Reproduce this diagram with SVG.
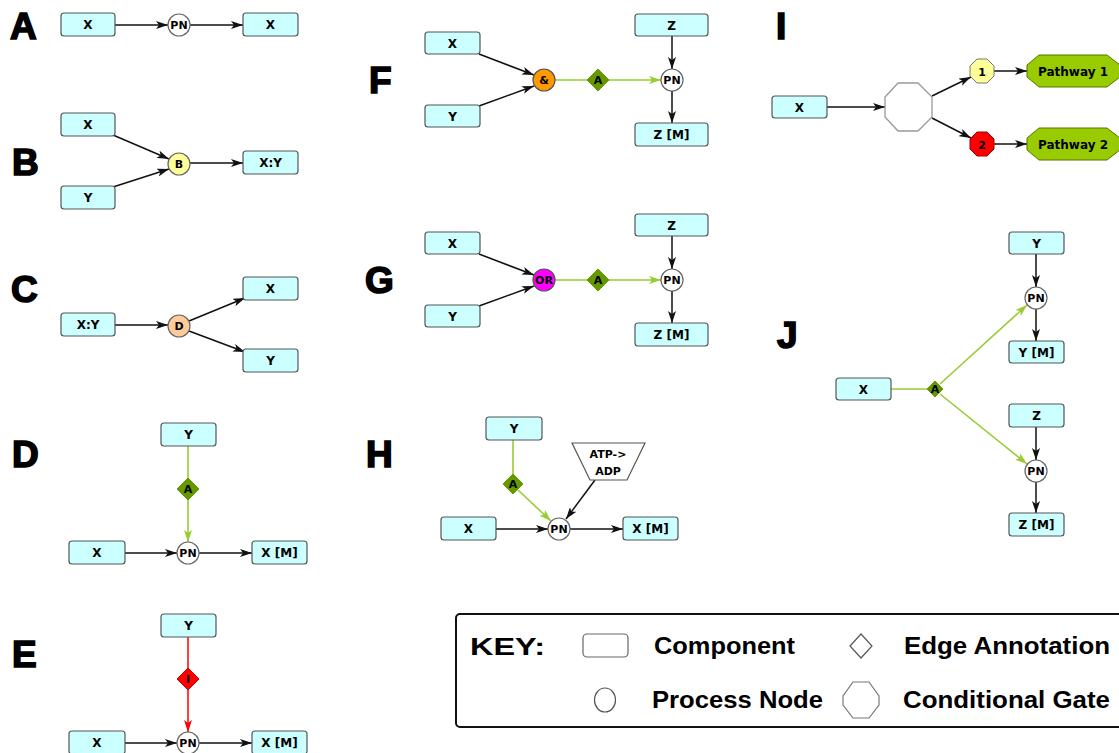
<svg xmlns="http://www.w3.org/2000/svg" width="1119" height="753" viewBox="0 0 1119 753">
<style>
.bg{fill:#ffffff}
.box{fill:#ccffff;stroke:#555;stroke-width:1.2}
.pn{fill:#fff;stroke:#666;stroke-width:1.2}
.t{font-family:"DejaVu Sans",Verdana,sans-serif;font-weight:bold;font-size:12px;fill:#000;text-anchor:middle}
.ts{font-family:"DejaVu Sans",Verdana,sans-serif;font-weight:bold;font-size:11px;fill:#000;text-anchor:middle}
.big{font-family:"Liberation Sans",Arial,sans-serif;font-weight:bold;font-size:37px;fill:#000;stroke:#000;stroke-width:1.6}
.key{font-family:"Liberation Sans",Arial,sans-serif;font-weight:bold;font-size:23px;fill:#000}
.k{stroke:#111;stroke-width:1.5;fill:none}
.g{stroke:#99cc33;stroke-width:1.6;fill:none}
.r{stroke:#ff0000;stroke-width:1.5;fill:none}
.ka{marker-end:url(#ak)}
.ga{marker-end:url(#ag)}
.ra{marker-end:url(#ar)}
.dg{fill:#669900;stroke:#669900;stroke-width:1}
.dr{fill:#ff0000;stroke:#cc0000;stroke-width:1}
</style>
<defs>
<marker id="ak" viewBox="0 0 12 8" refX="12" refY="4" markerWidth="12" markerHeight="8" markerUnits="userSpaceOnUse" orient="auto"><path d="M0,0 L12,4 L0,8 L3,4 z" fill="#111"/></marker>
<marker id="ag" viewBox="0 0 12 8" refX="12" refY="4" markerWidth="12" markerHeight="8" markerUnits="userSpaceOnUse" orient="auto"><path d="M0,0 L12,4 L0,8 L3,4 z" fill="#99cc33"/></marker>
<marker id="ar" viewBox="0 0 12 8" refX="12" refY="4" markerWidth="12" markerHeight="8" markerUnits="userSpaceOnUse" orient="auto"><path d="M0,0 L12,4 L0,8 L3,4 z" fill="#ff0000"/></marker>
</defs>
<rect class="bg" x="0" y="0" width="1119" height="753"/>

<g id="panel-letters">
<text class="big" x="10" y="39">A</text>
<text class="big" x="12" y="175">B</text>
<text class="big" x="11" y="302">C</text>
<text class="big" x="12" y="467">D</text>
<text class="big" x="12" y="667">E</text>
<text class="big" x="369" y="93">F</text>
<text class="big" x="365" y="293">G</text>
<text class="big" x="366" y="467">H</text>
<text class="big" x="776" y="39">I</text>
<text class="big" x="777" y="348">J</text>
</g>

<g id="connectors">
<!-- A -->
<line class="k ka" x1="115" y1="25" x2="168" y2="25"/>
<line class="k ka" x1="190" y1="25" x2="243" y2="25"/>
<!-- B -->
<line class="k ka" x1="113" y1="135" x2="169" y2="159"/>
<line class="k ka" x1="113" y1="187" x2="169" y2="169"/>
<line class="k ka" x1="190" y1="163" x2="243" y2="163"/>
<!-- C -->
<line class="k ka" x1="115" y1="325" x2="168" y2="325"/>
<line class="k ka" x1="189" y1="321" x2="245" y2="298"/>
<line class="k ka" x1="189" y1="331" x2="245" y2="352"/>
<!-- D -->
<line class="g" x1="188" y1="446" x2="188" y2="478"/>
<line class="g ga" x1="188" y1="500" x2="188" y2="542"/>
<line class="k ka" x1="125" y1="553" x2="177" y2="553"/>
<line class="k ka" x1="199" y1="553" x2="252" y2="553"/>
<!-- E -->
<line class="r" x1="188" y1="637" x2="188" y2="668"/>
<line class="r ra" x1="188" y1="690" x2="188" y2="732"/>
<line class="k ka" x1="125" y1="743" x2="177" y2="743"/>
<line class="k ka" x1="199" y1="743" x2="252" y2="743"/>
<!-- F -->
<line class="k ka" x1="479" y1="54" x2="534" y2="75"/>
<line class="k ka" x1="479" y1="106" x2="534" y2="86"/>
<line class="g" x1="555" y1="80" x2="588" y2="80"/>
<line class="g ga" x1="608" y1="80" x2="661" y2="80"/>
<line class="k ka" x1="672" y1="36" x2="672" y2="69"/>
<line class="k ka" x1="672" y1="91" x2="672" y2="123"/>
<!-- G -->
<line class="k ka" x1="479" y1="254" x2="534" y2="275"/>
<line class="k ka" x1="479" y1="306" x2="534" y2="286"/>
<line class="g" x1="555" y1="280" x2="588" y2="280"/>
<line class="g ga" x1="608" y1="280" x2="661" y2="280"/>
<line class="k ka" x1="672" y1="236" x2="672" y2="269"/>
<line class="k ka" x1="672" y1="291" x2="672" y2="323"/>
<!-- H -->
<line class="g" x1="513" y1="440" x2="513" y2="474"/>
<line class="g ga" x1="518" y1="490" x2="551" y2="521"/>
<line class="k ka" x1="595" y1="480" x2="566" y2="519"/>
<line class="k ka" x1="496" y1="529" x2="548" y2="529"/>
<line class="k ka" x1="570" y1="529" x2="623" y2="529"/>
<!-- I -->
<line class="k ka" x1="827" y1="107" x2="885" y2="107"/>
<line class="k ka" x1="932" y1="96" x2="971" y2="77"/>
<line class="k ka" x1="932" y1="118" x2="971" y2="138"/>
<line class="k ka" x1="994" y1="71" x2="1027" y2="71"/>
<line class="k ka" x1="994" y1="144" x2="1027" y2="144"/>
<!-- J -->
<line class="k ka" x1="1036" y1="254" x2="1036" y2="287"/>
<line class="k ka" x1="1036" y1="309" x2="1036" y2="341"/>
<line class="k ka" x1="1036" y1="427" x2="1036" y2="460"/>
<line class="k ka" x1="1036" y1="482" x2="1036" y2="513"/>
<line class="g" x1="891" y1="389" x2="928" y2="389"/>
<line class="g ga" x1="940" y1="384" x2="1027" y2="305"/>
<line class="g ga" x1="940" y1="394" x2="1027" y2="464"/>
</g>

<g id="A-nodes">
<g id="A-x"><rect class="box" x="61" y="13" width="54" height="23" rx="3"/><text class="t" x="88" y="29">X</text></g>
<g id="A-pn"><circle class="pn" cx="179" cy="25" r="11"/><text class="ts" x="179" y="29">PN</text></g>
<g id="A-x2"><rect class="box" x="243" y="13" width="55" height="23" rx="3"/><text class="t" x="270.5" y="29">X</text></g>
</g>

<g id="B-nodes">
<g id="B-x"><rect class="box" x="61" y="113" width="54" height="23" rx="3"/><text class="t" x="88" y="129">X</text></g>
<g id="B-y"><rect class="box" x="61" y="186" width="54" height="23" rx="3"/><text class="t" x="88" y="202">Y</text></g>
<g id="B-b"><circle class="pn" cx="179" cy="164" r="11" style="fill:#ffff99"/><text class="ts" x="179" y="168">B</text></g>
<g id="B-xy"><rect class="box" x="243" y="151" width="55" height="23" rx="3"/><text class="t" x="270.5" y="167">X:Y</text></g>
</g>

<g id="C-nodes">
<g id="C-xy"><rect class="box" x="61" y="313" width="54" height="23" rx="3"/><text class="t" x="88" y="329">X:Y</text></g>
<g id="C-d"><circle class="pn" cx="179" cy="326" r="11" style="fill:#ffcc99"/><text class="ts" x="179" y="330">D</text></g>
<g id="C-x"><rect class="box" x="243" y="277" width="55" height="23" rx="3"/><text class="t" x="270.5" y="293">X</text></g>
<g id="C-y"><rect class="box" x="243" y="349" width="55" height="23" rx="3"/><text class="t" x="270.5" y="365">Y</text></g>
</g>

<g id="D-nodes">
<g id="D-y"><rect class="box" x="161" y="423" width="55" height="23" rx="3"/><text class="t" x="188.5" y="439">Y</text></g>
<g id="D-a"><polygon class="dg" points="188,478 199,489 188,500 177,489"/><text class="ts" x="188" y="493">A</text></g>
<g id="D-pn"><circle class="pn" cx="188" cy="553" r="11"/><text class="ts" x="188" y="557">PN</text></g>
<g id="D-x"><rect class="box" x="69" y="541" width="56" height="23" rx="3"/><text class="t" x="97" y="557">X</text></g>
<g id="D-xm"><rect class="box" x="252" y="541" width="55" height="23" rx="3"/><text class="t" x="279.5" y="557">X [M]</text></g>
</g>

<g id="E-nodes">
<g id="E-y"><rect class="box" x="161" y="614" width="55" height="23" rx="3"/><text class="t" x="188.5" y="630">Y</text></g>
<g id="E-i"><polygon class="dr" points="188,668 199,679 188,690 177,679"/><text class="ts" x="188" y="683">I</text></g>
<g id="E-pn"><circle class="pn" cx="188" cy="743" r="11"/><text class="ts" x="188" y="747">PN</text></g>
<g id="E-x"><rect class="box" x="69" y="731" width="56" height="23" rx="3"/><text class="t" x="97" y="747">X</text></g>
<g id="E-xm"><rect class="box" x="252" y="731" width="55" height="23" rx="3"/><text class="t" x="279.5" y="747">X [M]</text></g>
</g>

<g id="F-nodes">
<g id="F-x"><rect class="box" x="425" y="32" width="55" height="22" rx="3"/><text class="t" x="452.5" y="47.5">X</text></g>
<g id="F-y"><rect class="box" x="425" y="105" width="55" height="22" rx="3"/><text class="t" x="452.5" y="120.5">Y</text></g>
<g id="F-and"><circle class="pn" cx="544" cy="80" r="11" style="fill:#ff9900;stroke:#555"/><text class="ts" x="544" y="84">&amp;</text></g>
<g id="F-a"><polygon class="dg" points="598,69 609,80 598,91 587,80"/><text class="ts" x="598" y="84">A</text></g>
<g id="F-pn"><circle class="pn" cx="672" cy="80" r="11"/><text class="ts" x="672" y="84">PN</text></g>
<g id="F-z"><rect class="box" x="635" y="14" width="73" height="22" rx="3"/><text class="t" x="671.5" y="29.5">Z</text></g>
<g id="F-zm"><rect class="box" x="635" y="123" width="73" height="23" rx="3"/><text class="t" x="671.5" y="139">Z [M]</text></g>
</g>

<g id="G-nodes">
<g id="G-x"><rect class="box" x="425" y="232" width="55" height="22" rx="3"/><text class="t" x="452.5" y="247.5">X</text></g>
<g id="G-y"><rect class="box" x="425" y="305" width="55" height="22" rx="3"/><text class="t" x="452.5" y="320.5">Y</text></g>
<g id="G-or"><circle class="pn" cx="544" cy="280" r="11" style="fill:#ff00ff;stroke:#555"/><text class="ts" x="544" y="284">OR</text></g>
<g id="G-a"><polygon class="dg" points="598,269 609,280 598,291 587,280"/><text class="ts" x="598" y="284">A</text></g>
<g id="G-pn"><circle class="pn" cx="672" cy="280" r="11"/><text class="ts" x="672" y="284">PN</text></g>
<g id="G-z"><rect class="box" x="635" y="214" width="73" height="22" rx="3"/><text class="t" x="671.5" y="229.5">Z</text></g>
<g id="G-zm"><rect class="box" x="635" y="323" width="73" height="23" rx="3"/><text class="t" x="671.5" y="339">Z [M]</text></g>
</g>

<g id="H-nodes">
<g id="H-y"><rect class="box" x="486" y="417" width="56" height="23" rx="3"/><text class="t" x="514" y="433">Y</text></g>
<g id="H-a"><polygon class="dg" points="513,474 523,484 513,494 503,484"/><text class="ts" x="513" y="488">A</text></g>
<g id="H-atp"><polygon points="572,443 645,443 627,480 590,480" fill="#fff" stroke="#555" stroke-width="1.2"/><text class="ts" x="608" y="458" font-size="10">ATP-&gt;</text><text class="ts" x="608" y="475" font-size="10">ADP</text></g>
<g id="H-pn"><circle class="pn" cx="559" cy="529" r="11"/><text class="ts" x="559" y="533">PN</text></g>
<g id="H-x"><rect class="box" x="441" y="517" width="55" height="23" rx="3"/><text class="t" x="468.5" y="533">X</text></g>
<g id="H-xm"><rect class="box" x="623" y="517" width="55" height="23" rx="3"/><text class="t" x="650.5" y="533">X [M]</text></g>
</g>

<g id="I-nodes">
<g id="I-x"><rect class="box" x="772" y="96" width="55" height="22" rx="3"/><text class="t" x="799.5" y="111.5">X</text></g>
<g id="I-gate"><polygon points="898,83 918,83 932,97 932,117 918,131 898,131 885,117 885,97" fill="#fff" stroke="#999" stroke-width="1.3"/></g>
<g id="I-1"><polygon points="977,59 987,59 994,66 994,76 987,83 977,83 970,76 970,66" fill="#ffff99" stroke="#777" stroke-width="1"/><text class="ts" x="982" y="75.5">1</text></g>
<g id="I-2"><polygon points="977,132 987,132 994,139 994,149 987,156 977,156 970,149 970,139" fill="#ff0000" stroke="#990000" stroke-width="1"/><text class="ts" x="982" y="148.5">2</text></g>
<g id="I-p1"><polygon points="1027,65 1039,55 1107,55 1120,65 1120,77 1107,87 1039,87 1027,77" fill="#99cc00" stroke="#557700" stroke-width="1"/><text class="t" x="1073" y="75.5">Pathway 1</text></g>
<g id="I-p2"><polygon points="1027,138 1039,128 1107,128 1120,138 1120,150 1107,160 1039,160 1027,150" fill="#99cc00" stroke="#557700" stroke-width="1"/><text class="t" x="1073" y="148.5">Pathway 2</text></g>
</g>

<g id="J-nodes">
<g id="J-y"><rect class="box" x="1009" y="232" width="55" height="22" rx="3"/><text class="t" x="1036.5" y="247.5">Y</text></g>
<g id="J-pn1"><circle class="pn" cx="1036" cy="298" r="11"/><text class="ts" x="1036" y="302">PN</text></g>
<g id="J-ym"><rect class="box" x="1009" y="341" width="55" height="22" rx="3"/><text class="t" x="1036.5" y="356.5">Y [M]</text></g>
<g id="J-x"><rect class="box" x="836" y="378" width="55" height="22" rx="3"/><text class="t" x="863.5" y="393.5">X</text></g>
<g id="J-a"><polygon class="dg" points="935,381 943,389 935,397 927,389"/><text class="ts" x="935" y="393">A</text></g>
<g id="J-z"><rect class="box" x="1009" y="404" width="55" height="23" rx="3"/><text class="t" x="1036.5" y="420">Z</text></g>
<g id="J-pn2"><circle class="pn" cx="1036" cy="471" r="11"/><text class="ts" x="1036" y="475">PN</text></g>
<g id="J-zm"><rect class="box" x="1009" y="513" width="55" height="23" rx="3"/><text class="t" x="1036.5" y="529">Z [M]</text></g>
</g>

<g id="key">
<rect x="456" y="614" width="680" height="113" rx="4" fill="#fff" stroke="#111" stroke-width="2"/>
<text class="key" x="470" y="655" font-size="25" textLength="75" lengthAdjust="spacingAndGlyphs">KEY:</text>
<rect x="583" y="634" width="45" height="23" rx="4" fill="#fff" stroke="#666" stroke-width="1.2"/>
<text class="key" x="654" y="654" textLength="141" lengthAdjust="spacingAndGlyphs">Component</text>
<polygon points="861,634 872,646 861,658 850,646" fill="#fff" stroke="#555" stroke-width="1.2"/>
<text class="key" x="904" y="654" textLength="206" lengthAdjust="spacingAndGlyphs">Edge Annotation</text>
<ellipse cx="605" cy="700" rx="10.5" ry="12" fill="#fff" stroke="#555" stroke-width="1.2"/>
<text class="key" x="652" y="708" textLength="171" lengthAdjust="spacingAndGlyphs">Process Node</text>
<polygon points="853,682 869,682 879,696 879,705 869,718 853,718 843,705 843,696" fill="#fff" stroke="#777" stroke-width="1.2"/>
<text class="key" x="903" y="708" textLength="207" lengthAdjust="spacingAndGlyphs">Conditional Gate</text>
</g>
</svg>
